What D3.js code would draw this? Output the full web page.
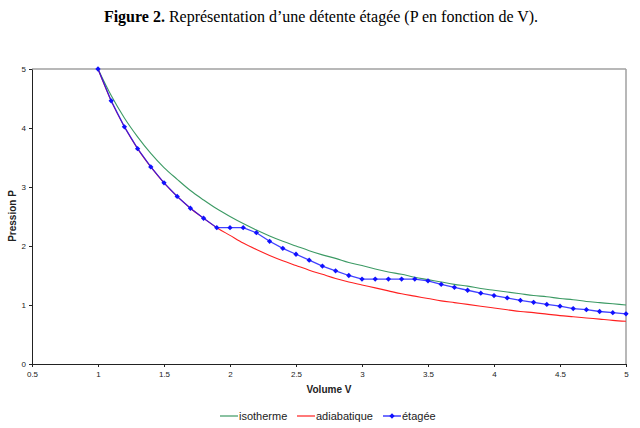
<!DOCTYPE html>
<html>
<head>
<meta charset="utf-8">
<script src="https://cdn.jsdelivr.net/npm/d3@7"></script>
<style>
  html, body { margin: 0; padding: 0; background: #ffffff; }
  svg { display: block; }
</style>
</head>
<body>
<svg id="chart" width="640" height="428"></svg>
<script>
// ---- Data ----
const volumes = [1.0,1.1,1.2,1.3,1.4,1.5,1.6,1.7,1.8,1.9,2.0,2.1,2.2,2.3,2.4,2.5,2.6,2.7,2.8,2.9,3.0,
                 3.1,3.2,3.3,3.4,3.5,3.6,3.7,3.8,3.9,4.0,4.1,4.2,4.3,4.4,4.5,4.6,4.7,4.8,4.9,5.0];
const isotherme = [5.00,4.55,4.17,3.85,3.57,3.33,3.13,2.94,2.78,2.63,2.50,2.38,2.27,2.17,2.08,2.00,1.92,1.85,1.79,1.72,1.67,
                   1.61,1.56,1.52,1.47,1.43,1.39,1.35,1.32,1.28,1.25,1.22,1.19,1.16,1.14,1.11,1.09,1.06,1.04,1.02,1.00];
const adiabatique = [5.00,4.46,4.02,3.65,3.34,3.07,2.84,2.64,2.47,2.31,2.18,2.05,1.94,1.84,1.75,1.67,1.59,1.52,1.45,1.39,1.34,
                     1.29,1.24,1.19,1.15,1.11,1.07,1.04,1.01,0.98,0.95,0.92,0.89,0.87,0.845,0.82,0.80,0.78,0.76,0.74,0.725];
const etagee = [5.00,4.46,4.02,3.65,3.34,3.07,2.84,2.64,2.47,2.31,2.31,2.31,2.225,2.08,1.96,1.86,1.76,1.66,1.58,1.50,1.44,
                1.44,1.44,1.44,1.44,1.41,1.35,1.30,1.25,1.20,1.16,1.12,1.08,1.045,1.01,0.98,0.94,0.92,0.89,0.87,0.85];
const xTicks = [0.5,1,1.5,2,2.5,3,3.5,4,4.5,5];
const yTicks = [0,1,2,3,4,5];
const seriesNames = ["isotherme","adiabatique","étagée"];

// ---- Layout ----
const svg = d3.select("#chart");
const x = d3.scaleLinear().domain([0.5,5]).range([32,626]);
const y = d3.scaleLinear().domain([0,5]).range([364,69]);

// Title
const title = svg.append("text")
  .attr("x", 321).attr("y", 22)
  .attr("text-anchor","middle")
  .style("font-family","'Liberation Serif', 'Times New Roman', serif")
  .style("font-size","16px")
  .attr("fill","#000");
title.append("tspan").attr("font-weight","bold").text("Figure 2.");
title.append("tspan").text(" Représentation d’une détente étagée (P en fonction de V).");

// Plot frame (top and right borders, gray)
svg.append("line").attr("x1",x(0.5)).attr("x2",x(5)).attr("y1",y(5)).attr("y2",y(5))
  .attr("stroke","#a0a0a0").attr("stroke-width",1.5);
svg.append("line").attr("x1",x(5)).attr("x2",x(5)).attr("y1",y(5)).attr("y2",y(0))
  .attr("stroke","#a0a0a0").attr("stroke-width",1.5);

// Axes
const xAxis = d3.axisBottom(x).tickValues(xTicks).tickSize(3).tickSizeOuter(0)
  .tickFormat(d => String(d));
const yAxis = d3.axisLeft(y).tickValues(yTicks).tickSize(3).tickSizeOuter(0)
  .tickFormat(d => String(d));

const gx = svg.append("g").attr("transform",`translate(0,${y(0)})`).call(xAxis);
const gy = svg.append("g").attr("transform",`translate(${x(0.5)},0)`).call(yAxis);
[gx, gy].forEach(g => {
  g.select(".domain").attr("stroke","#222").attr("stroke-width",1);
  g.selectAll(".tick line").attr("stroke","#222");
  g.selectAll(".tick text")
    .style("font-family","Arial, 'Liberation Sans', sans-serif")
    .style("font-size","8px").attr("fill","#222");
});
gx.selectAll(".tick text").attr("dy","0.9em");
gy.selectAll(".tick text").attr("x",-6);

// Axis labels
svg.append("text").attr("x", 329).attr("y", 393).attr("text-anchor","middle")
  .style("font-family","Arial, 'Liberation Sans', sans-serif").style("font-size","10px")
  .style("font-weight","bold").attr("fill","#222").text("Volume V");
svg.append("text").attr("transform","translate(16,216) rotate(-90)").attr("text-anchor","middle")
  .style("font-family","Arial, 'Liberation Sans', sans-serif").style("font-size","10px")
  .style("font-weight","bold").attr("fill","#222").text("Pression P");

// Series
const colors = { iso: "#3c9a64", adia: "#ff2020", eta: "#1010ff" };
const smooth = d3.line().x((d,i) => x(volumes[i])).y(d => y(d)).curve(d3.curveMonotoneX);
const straight = d3.line().x((d,i) => x(volumes[i])).y(d => y(d));

svg.append("path").attr("d", smooth(isotherme)).attr("fill","none")
  .attr("stroke",colors.iso).attr("stroke-width",1.1);
svg.append("path").attr("d", smooth(adiabatique)).attr("fill","none")
  .attr("stroke",colors.adia).attr("stroke-width",1.1);
svg.append("path").attr("d", straight(etagee)).attr("fill","none")
  .attr("stroke",colors.eta).attr("stroke-width",1.3).attr("stroke-opacity",0.8);

const marker = d3.symbol().type(d3.symbolSquare).size(14);
svg.append("g").selectAll("path").data(etagee).join("path")
  .attr("transform",(d,i) => `translate(${x(volumes[i])},${y(d)}) rotate(45)`)
  .attr("d", marker).attr("fill",colors.eta);

// Legend
const legend = svg.append("g").style("font-family","Arial, 'Liberation Sans', sans-serif")
  .style("font-size","11px");
const legendItems = [
  { name: seriesNames[0], color: colors.iso, x0: 220, marker: false },
  { name: seriesNames[1], color: colors.adia, x0: 297, marker: false },
  { name: seriesNames[2], color: colors.eta, x0: 383, marker: true }
];
legendItems.forEach(it => {
  legend.append("line").attr("x1", it.x0).attr("x2", it.x0 + 18).attr("y1", 416).attr("y2", 416)
    .attr("stroke", it.color).attr("stroke-width", 1.2);
  if (it.marker) {
    legend.append("path").attr("transform",`translate(${it.x0 + 9},416) rotate(45)`).attr("d", marker).attr("fill", it.color);
  }
  legend.append("text").attr("x", it.x0 + 19).attr("y", 420).attr("fill","#222").text(it.name);
});
</script>
</body>
</html>
